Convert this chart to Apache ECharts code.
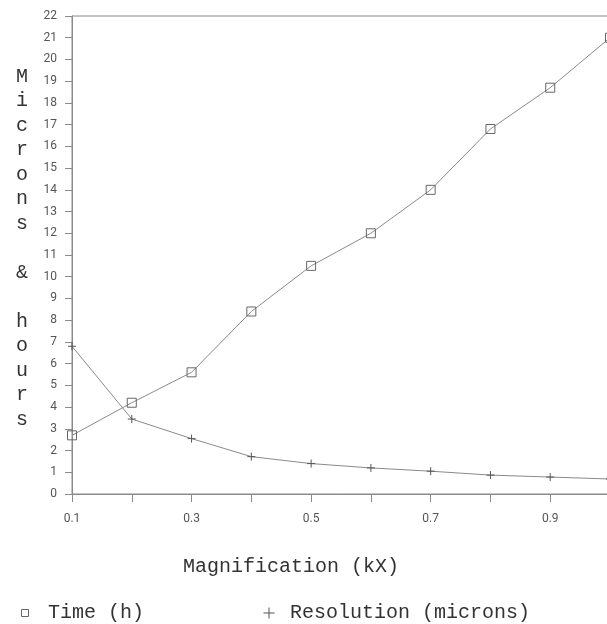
<!DOCTYPE html>
<html>
<head>
<meta charset="utf-8">
<title>Magnification vs time and resolution</title>
<script src="https://cdn.jsdelivr.net/npm/echarts@6/dist/echarts.min.js"></script>
<style>
  html, body { margin: 0; padding: 0; background: #fff; }
  #chart { width: 607px; height: 624px; }
</style>
</head>
<body>
<div id="chart"></div>
<script>
// magnification in kX
var magnification = [0.1, 0.2, 0.3, 0.4, 0.5, 0.6, 0.7, 0.8, 0.9, 1.0]
// time in hours (square markers)
var timeHours = [2.7, 4.2, 5.6, 8.4, 10.5, 12.0, 14.0, 16.8, 18.7, 21.0]
// resolution in microns (plus markers)
var resolutionMicrons = [6.8, 3.45, 2.55, 1.72, 1.4, 1.2, 1.05, 0.87, 0.78, 0.69]

var seriesNames = ['Time (h)', 'Resolution (microns)']
var yTitle = ['M', 'i', 'c', 'r', 'o', 'n', 's', '', '&', '', 'h', 'o', 'u', 'r', 's']
var xTitle = 'Magnification (kX)'

var squarePath = 'path://M0,0L10,0L10,10L0,10Z'
var plusPath = 'path://M5,0L5,10M0,5L10,5'

var gray = '#8a8a8a'
var titleFont = 'Liberation Mono'

function pairs(xs, ys) {
  return xs.map(function (x, i) { return [x, ys[i]] })
}

var chart = echarts.init(document.getElementById('chart'))

chart.setOption({
  backgroundColor: '#fff',
  animation: false,
  grid: {
    left: 72,
    top: 16,
    right: -3,
    bottom: 130,
    show: true,
    borderColor: gray,
    borderWidth: 1,
    containLabel: false,
    outerBoundsMode: 'none'
  },
  // stacked vertical y title, one letter per line
  graphic: [{
    type: 'text',
    x: 22,
    y: 64,
    style: {
      text: yTitle.join('\n'),
      font: '20px "Liberation Mono"',
      lineHeight: 24.5,
      fill: '#333',
      align: 'center',
      verticalAlign: 'top'
    }
  }],
  legend: [{
    data: [{ name: seriesNames[0], icon: squarePath }],
    left: 16,
    top: 598,
    itemWidth: 36,
    itemHeight: 7,
    symbolKeepAspect: true,
    itemStyle: { color: 'transparent', borderColor: '#666', borderWidth: 1 },
    textStyle: { fontFamily: titleFont, fontSize: 20, color: '#333' }
  }, {
    data: [{ name: seriesNames[1], icon: plusPath }],
    left: 258,
    top: 598,
    itemWidth: 32,
    itemHeight: 11,
    symbolKeepAspect: true,
    itemStyle: { color: 'transparent', borderColor: '#555', borderWidth: 1 },
    textStyle: { fontFamily: titleFont, fontSize: 20, color: '#333' }
  }],
  xAxis: {
    type: 'value',
    min: 0.1,
    max: 1.0,
    interval: 0.1,
    name: xTitle,
    nameLocation: 'middle',
    nameGap: 63,
    nameTextStyle: {
      fontFamily: titleFont,
      fontSize: 20,
      color: '#333',
      padding: [0, 100, 0, 0]
    },
    axisLine: { lineStyle: { color: gray, width: 1 } },
    axisTick: { show: true, length: 8, lineStyle: { color: gray } },
    splitLine: { show: false },
    axisLabel: {
      margin: 19,
      fontFamily: 'Roboto',
      fontSize: 12,
      color: '#555',
      formatter: function (v) {
        var k = Math.round(v * 10)
        return k % 2 === 1 ? v.toFixed(1) : ''
      }
    }
  },
  yAxis: {
    type: 'value',
    min: 0,
    max: 22,
    interval: 1,
    axisLine: { show: true, lineStyle: { color: gray, width: 1 } },
    axisTick: { show: true, length: 7, lineStyle: { color: gray } },
    splitLine: { show: false },
    axisLabel: {
      margin: 15,
      fontFamily: 'Roboto',
      fontSize: 12,
      color: '#555'
    }
  },
  series: [{
    name: seriesNames[0],
    type: 'line',
    data: pairs(magnification, timeHours),
    symbol: squarePath,
    symbolSize: 9,
    showAllSymbol: true,
    lineStyle: { color: gray, width: 1 },
    itemStyle: { color: 'transparent', borderColor: '#666', borderWidth: 1 },
    z: 3
  }, {
    name: seriesNames[1],
    type: 'line',
    data: pairs(magnification, resolutionMicrons),
    symbol: plusPath,
    symbolSize: 8,
    showAllSymbol: true,
    lineStyle: { color: gray, width: 1 },
    itemStyle: { color: 'transparent', borderColor: '#555', borderWidth: 1 },
    z: 3
  }]
})
</script>
</body>
</html>
